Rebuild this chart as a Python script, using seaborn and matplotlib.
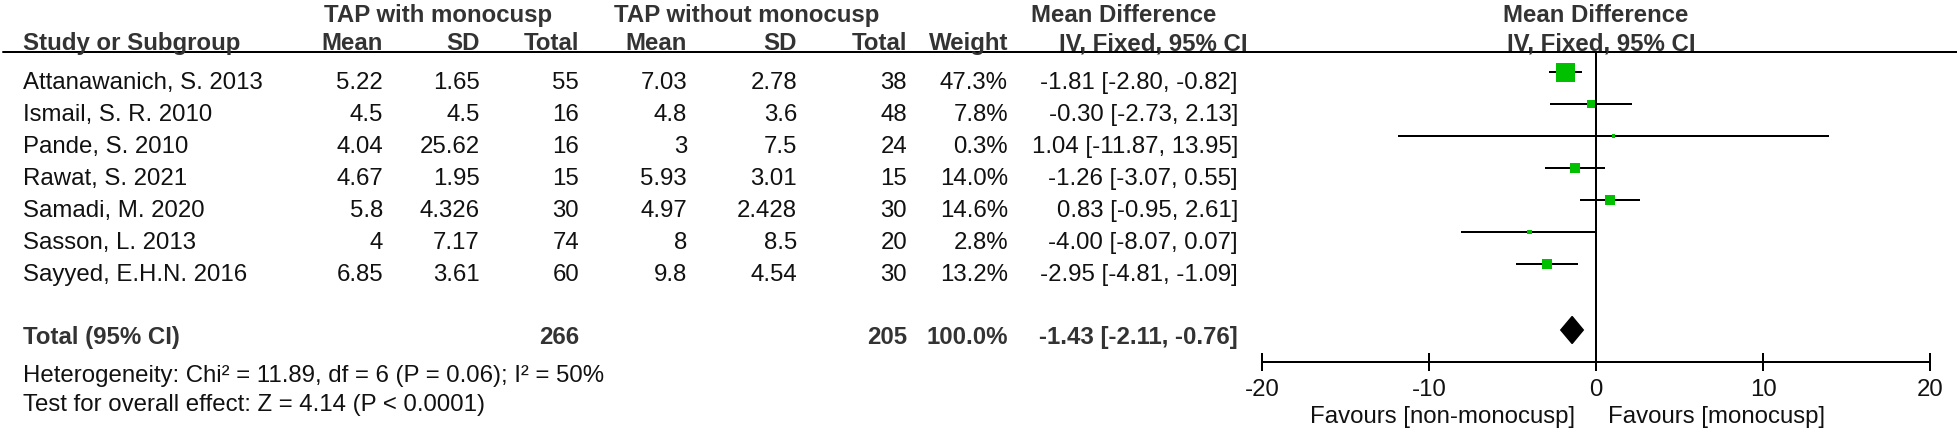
import numpy as np
import pandas as pd
import matplotlib
matplotlib.use("Agg")
import matplotlib.pyplot as plt
from matplotlib.lines import Line2D
import seaborn as sns

# ---------------- data ----------------
studies = ["Attanawanich, S. 2013", "Ismail, S. R. 2010", "Pande, S. 2010",
           "Rawat, S. 2021", "Samadi, M. 2020", "Sasson, L. 2013",
           "Sayyed, E.H.N. 2016"]
mono_mean = [5.22, 4.5, 4.04, 4.67, 5.8, 4, 6.85]
mono_sd = [1.65, 4.5, 25.62, 1.95, 4.326, 7.17, 3.61]
mono_n = [55, 16, 16, 15, 30, 74, 60]
non_mean = [7.03, 4.8, 3, 5.93, 4.97, 8, 9.8]
non_sd = [2.78, 3.6, 7.5, 3.01, 2.428, 8.5, 4.54]
non_n = [38, 48, 24, 15, 30, 20, 30]
weight = [47.3, 7.8, 0.3, 14.0, 14.6, 2.8, 13.2]
md = [-1.81, -0.30, 1.04, -1.26, 0.83, -4.00, -2.95]
ci_low = [-2.80, -2.73, -11.87, -3.07, -0.95, -8.07, -4.81]
ci_high = [-0.82, 2.13, 13.95, 0.55, 2.61, 0.07, -1.09]
total_mono_n = 266
total_non_n = 205
total_weight = 100.0
total_md = -1.43
total_low = -2.11
total_high = -0.76
heterogeneity = "Heterogeneity: Chi\u00b2 = 11.89, df = 6 (P = 0.06); I\u00b2 = 50%"
overall = "Test for overall effect: Z = 4.14 (P < 0.0001)"
xticks = [-20, -10, 0, 10, 20]
favours_left = "Favours [non-monocusp]"
favours_right = "Favours [monocusp]"

# ---------------- style ----------------
sns.set_theme(style="white")
plt.rcParams["font.family"] = ["Liberation Sans", "DejaVu Sans"]

W, H, DPI = 1957, 432, 100
FS = 24 * 72 / DPI          # ~24 px text
PX = 72 / DPI               # points per pixel
LW = 2 * PX
GREEN = "#00C000"
BOLD_C = "#333333"
TXT_C = "#111111"

fig = plt.figure(figsize=(W / DPI, H / DPI), dpi=DPI)
fig.patch.set_facecolor("white")


def ftext(x, y, s, ha="left", bold=False):
    fig.text(x / W, 1 - y / H, s, ha=ha, va="baseline", fontsize=FS,
             fontweight="bold" if bold else "normal",
             color=BOLD_C if bold else TXT_C)


# ---------------- table text ----------------
ftext(438, 22, "TAP with monocusp", "center", True)
ftext(747, 22, "TAP without monocusp", "center", True)
ftext(1124, 22, "Mean Difference", "center", True)
ftext(1596, 22, "Mean Difference", "center", True)

hdr = [(23, "Study or Subgroup", "left"), (383, "Mean", "right"),
       (480, "SD", "right"), (579, "Total", "right"), (687, "Mean", "right"),
       (797, "SD", "right"), (907, "Total", "right"), (1008, "Weight", "right")]
for x, s, ha in hdr:
    ftext(x, 50, s, ha, True)
ftext(1153, 50, "IV, Fixed, 95% CI", "center", True)
ftext(1601, 50, "IV, Fixed, 95% CI", "center", True)

fig.add_artist(Line2D([3 / W, 1], [1 - 52 / H, 1 - 52 / H], transform=fig.transFigure,
                      color="black", lw=LW))

for i, name in enumerate(studies):
    yb = 89 + 32 * i
    ftext(23, yb, name)
    ftext(383, yb, f"{mono_mean[i]:g}", "right")
    ftext(480, yb, f"{mono_sd[i]:g}", "right")
    ftext(579, yb, f"{mono_n[i]}", "right")
    ftext(687, yb, f"{non_mean[i]:g}", "right")
    ftext(797, yb, f"{non_sd[i]:g}", "right")
    ftext(907, yb, f"{non_n[i]}", "right")
    ftext(1008, yb, f"{weight[i]:.1f}%", "right")
    ftext(1238, yb, f"{md[i]:.2f} [{ci_low[i]:.2f}, {ci_high[i]:.2f}]", "right")

ftext(23, 344, "Total (95% CI)", "left", True)
ftext(579, 344, f"{total_mono_n}", "right", True)
ftext(907, 344, f"{total_non_n}", "right", True)
ftext(1008, 344, f"{total_weight:.1f}%", "right", True)
ftext(1238, 344, f"{total_md:.2f} [{total_low:.2f}, {total_high:.2f}]", "right", True)
ftext(23, 382, heterogeneity)
ftext(23, 411, overall)

# ---------------- forest plot ----------------
ax = fig.add_axes([1262 / W, 1 - 362 / H, (1930 - 1262) / W, (362 - 52) / H])
ax.patch.set_alpha(0)

rows = np.arange(len(studies))
side_px = [max(3.7, 19 * np.sqrt(w / 47.3)) for w in weight]
df = pd.DataFrame({"md": md, "row": rows, "area": [(s * PX) ** 2 for s in side_px]})

ax.axvline(0, color="black", lw=LW, zorder=1)
ax.hlines(rows, ci_low, ci_high, color="black", lw=LW, zorder=2)
amin, amax = df["area"].min(), df["area"].max()
sns.scatterplot(data=df, x="md", y="row", size="area", sizes=(amin, amax),
                size_norm=(amin, amax), marker="s", color=GREEN, linewidth=0,
                legend=False, ax=ax, zorder=3)

dy = (330 - 72) / 32
dh = 13.5 / 32
ax.fill([total_low, total_md, total_high, total_md],
        [dy, dy - dh, dy, dy + dh], color="black", zorder=3)

ax.set_xlim(-20, 20)
ax.set_ylim((362 - 72) / 32, (52 - 72) / 32)
ax.set_xticks(xticks)
ax.set_xticklabels([f"{t}" for t in xticks])
ax.set_yticks([])
ax.set_xlabel("")
ax.set_ylabel("")
for s in ["left", "right", "top"]:
    ax.spines[s].set_visible(False)
ax.spines["bottom"].set_color("black")
ax.spines["bottom"].set_linewidth(LW)
ax.tick_params(axis="x", direction="inout", length=18 * PX, width=LW,
               pad=5.5, labelsize=FS, colors="black", bottom=True)
for lab in ax.get_xticklabels():
    lab.set_color(TXT_C)

ftext(1575, 423, favours_left, "right")
ftext(1608, 423, favours_right, "left")

fig.savefig("out.png", dpi=DPI, facecolor="white")
